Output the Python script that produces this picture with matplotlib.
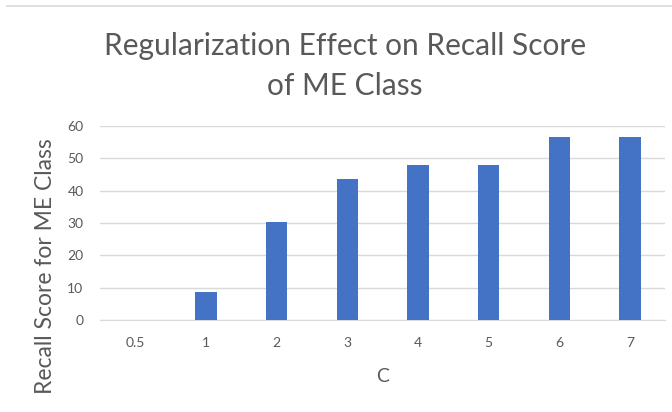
import matplotlib
matplotlib.use("Agg")
import matplotlib.pyplot as plt
from matplotlib.lines import Line2D

# data
c_labels = ["0.5", "1", "2", "3", "4", "5", "6", "7"]
recall = [0, 8.7, 30.4, 43.5, 47.8, 47.8, 56.5, 56.5]

plt.rcParams["font.family"] = ["Lato", "DejaVu Sans"]
GREY = "#595959"

fig = plt.figure(figsize=(6.72, 4.12), dpi=100)
ax = fig.add_axes([0.149, 0.2233, 0.841, 0.4709])

x = range(len(c_labels))
ax.bar(x, recall, width=0.3, color="#4472C4", zorder=3)

ax.set_xlim(-0.5, len(c_labels) - 0.5)
ax.set_ylim(0, 60)
ax.set_yticks(range(0, 61, 10))
ax.set_xticks(list(x))
ax.set_xticklabels(c_labels)
ax.yaxis.grid(True, color="#d9d9d9", linewidth=1, zorder=0)
for s in ["top", "right", "left"]:
    ax.spines[s].set_visible(False)
ax.spines["bottom"].set_color("#d9d9d9")
ax.tick_params(axis="both", length=0, labelsize=10, colors=GREY)
ax.tick_params(axis="y", pad=12)
ax.tick_params(axis="x", pad=12)

ax.set_xlabel("C", fontsize=14, color=GREY, labelpad=14)
fig.text(0.067, 0.355, "Recall Score for ME Class", rotation=90, fontsize=16.5,
         color=GREY, ha="center", va="center")

fig.text(0.513, 0.888, "Regularization Effect on Recall Score", fontsize=21.5,
         color=GREY, ha="center", va="center")
fig.text(0.513, 0.792, "of ME Class", fontsize=21.5,
         color=GREY, ha="center", va="center")

# light border line at top of the chart area
fig.add_artist(Line2D([0.01, 1.0], [0.985, 0.985], color="#d9d9d9", linewidth=1.2,
                      transform=fig.transFigure))

fig.savefig("out.png", dpi=100)
